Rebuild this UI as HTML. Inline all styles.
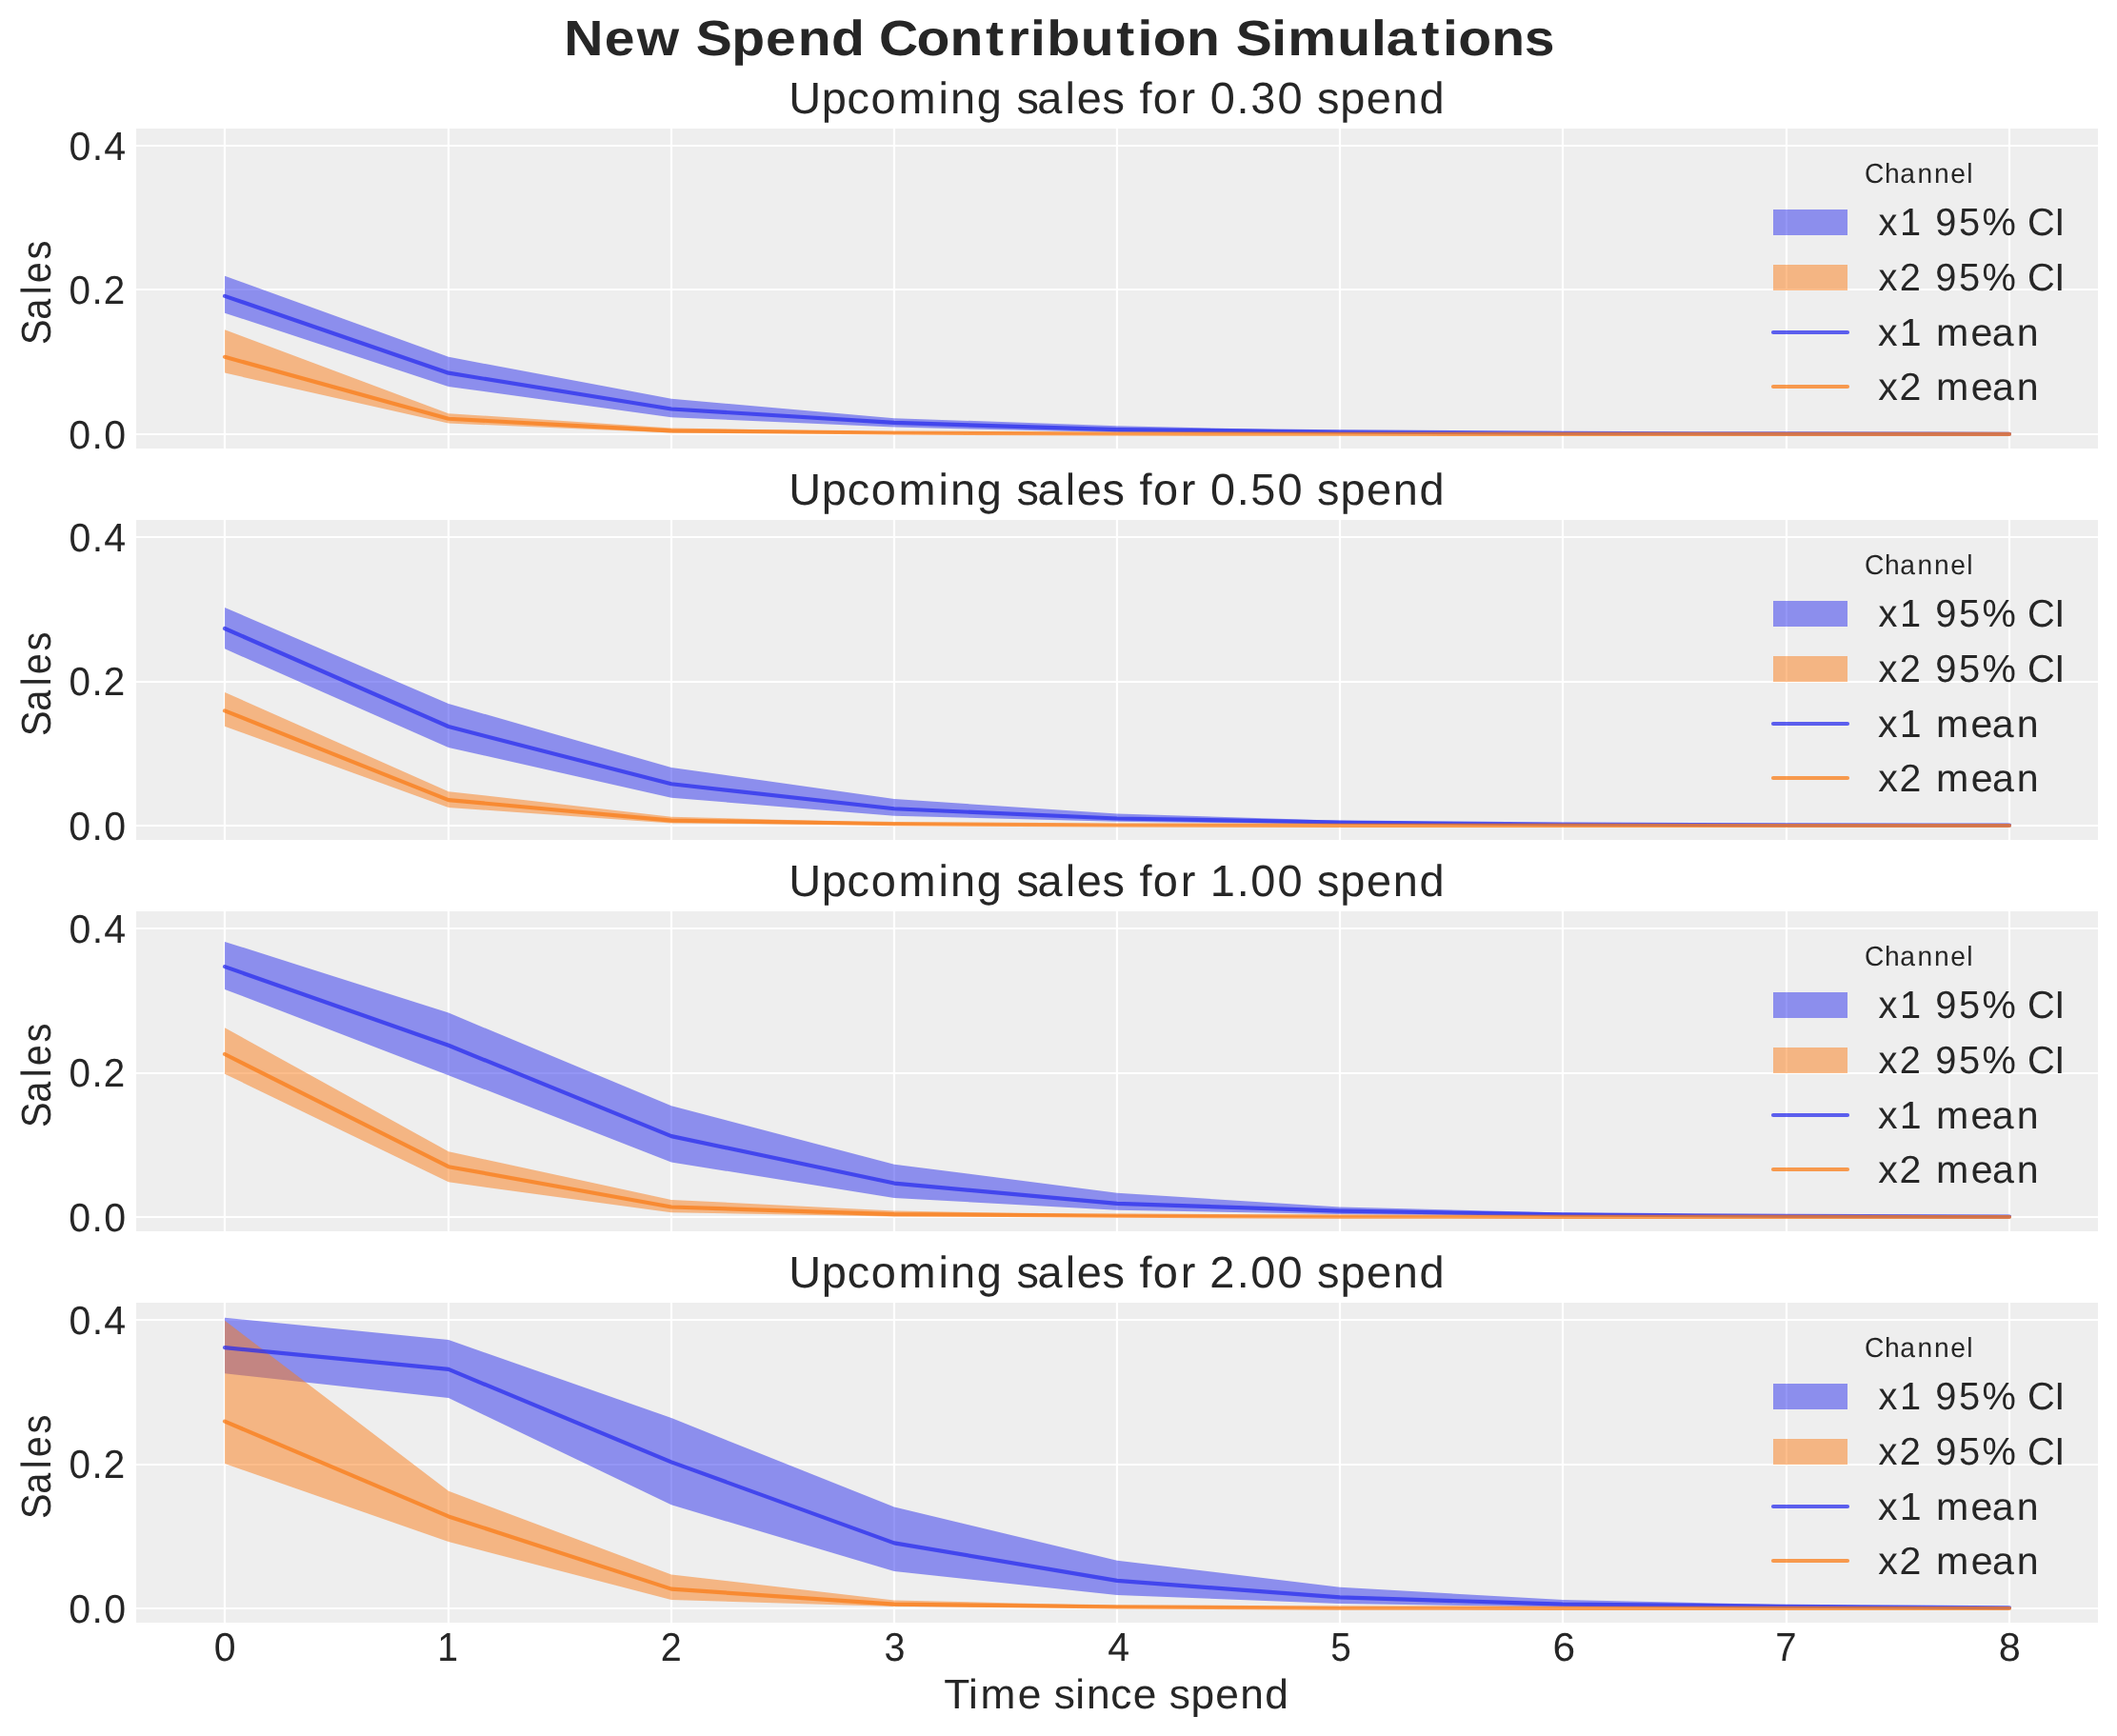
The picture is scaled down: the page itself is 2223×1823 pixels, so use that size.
<!DOCTYPE html>
<html><head><meta charset="utf-8"><title>New Spend Contribution Simulations</title><style>html,body{margin:0;padding:0;background:#fff;overflow:hidden}</style></head><body>
<svg width="2223" height="1823" viewBox="0 0 2223 1823" style="display:block;font-family:'Liberation Sans',sans-serif;text-rendering:geometricPrecision;will-change:transform">
<rect x="0" y="0" width="2223" height="1823" fill="#ffffff"/>
<text text-rendering="geometricPrecision" transform="translate(0,57.75) scale(1.0919,1)" x="542.49 581.28 612.48 653.93 669.2 703.58 736.45 767.16 799.6 832.2 845.42 881.57 913.66 947.92 969.47 991.02 1006.8 1039.23 1073.57 1094.06 1108.93 1141.02 1173.26 1188.52 1222.84 1238.56 1286 1318.92 1333.19 1366.96 1387.46 1402.33 1434.41 1466.02" y="0" font-size="52.25" font-weight="bold" fill="#262626">New Spend Contribution Simulations</text>
<rect x="143" y="135" width="2060" height="336" fill="#eeeeee"/>
<path d="M236 135V471M471 135V471M705 135V471M939 135V471M1173 135V471M1407 135V471M1641 135V471M1876 135V471M2110 135V471M143 456H2203M143 304H2203M143 153H2203" stroke="#ffffff" stroke-width="2.22" fill="none"/>
<polygon points="236,289.69 471,374.81 705,418.81 939,439.18 1173,447.24 1407,452.48 1641,454.53 1876,455.29 2110,455.67 2110,455.82 1876,455.67 1641,455.44 1407,454.76 1173,454 939,448.6 705,438.19 471,405.89 236,328.68" fill="#2a2eec" fill-opacity="0.5"/>
<polygon points="236,346.23 471,434.16 705,449.52 939,453.62 1173,455.14 1407,455.67 1641,455.82 1876,455.9 2110,455.9 2110,455.9 1876,455.9 1641,455.9 1407,455.9 1173,455.82 939,455.44 705,454.53 471,444.5 236,391.6" fill="#fa7c17" fill-opacity="0.5"/>
<polyline points="236,310.89 471,391.68 705,429.53 939,443.89 1173,451.19 1407,453.39 1641,454.91 1876,455.44 2110,455.75" fill="none" stroke="#2a2eec" stroke-opacity="0.75" stroke-width="4.17" stroke-linecap="round" stroke-linejoin="round"/>
<polyline points="236,374.81 471,439.71 705,452.4 939,454.53 1173,455.52 1407,455.75 1641,455.9 1876,455.9 2110,455.9" fill="none" stroke="#fa7c17" stroke-opacity="0.75" stroke-width="4.17" stroke-linecap="round" stroke-linejoin="round"/>
<text text-rendering="geometricPrecision" transform="translate(0,191.8) scale(0.9714,1)" x="2015.64 2037.21 2053.9 2072.78 2090.84 2108.64 2126.16" y="0" font-size="29.03" fill="#262626">Channel</text>
<rect x="1862" y="220" width="78" height="27" fill="#2a2eec" fill-opacity="0.5"/>
<rect x="1862" y="278" width="78" height="27" fill="#fa7c17" fill-opacity="0.5"/>
<path d="M1862 349H1940" stroke="#2a2eec" stroke-opacity="0.75" stroke-width="4.17" stroke-linecap="round"/>
<path d="M1862 406H1940" stroke="#fa7c17" stroke-opacity="0.75" stroke-width="4.17" stroke-linecap="round"/>
<text text-rendering="geometricPrecision" transform="translate(0,246.8) scale(0.9783,1)" x="2016.25 2039.39 2063.55 2077.39 2102.65 2127.58 2164.54 2176.16 2205.14" y="0" font-size="40.64" fill="#262626">x1 95% CI</text>
<text text-rendering="geometricPrecision" transform="translate(0,304.8) scale(0.9794,1)" x="2014.01 2036.81 2061.27 2075.09 2100.33 2125.22 2162.15 2173.74 2202.71" y="0" font-size="40.64" fill="#262626">x2 95% CI</text>
<text text-rendering="geometricPrecision" transform="translate(0,362.7) scale(1.0114,1)" x="1949.85 1972.19 1995.94 2010.06 2046.22 2068.29 2093.8" y="0" font-size="40.64" fill="#262626">x1 mean</text>
<text text-rendering="geometricPrecision" transform="translate(0,419.7) scale(1.0124,1)" x="1948.02 1970.04 1994.07 2008.17 2044.3 2066.35 2091.83" y="0" font-size="40.64" fill="#262626">x2 mean</text>
<text text-rendering="geometricPrecision" transform="translate(0,118.75) scale(1.0095,1)" x="820.44 854.64 881.2 905.99 934.56 976.19 988.57 1016.12 1043.26 1057.41 1079.08 1108.09 1120.07 1146.6 1169.36 1185.2 1199.39 1227.91 1243.85 1258.9 1286.35 1300.95 1328.88 1355.8 1369.95 1394.04 1421.35 1448.84 1476.39" y="0" font-size="46.44" fill="#262626">Upcoming sales for 0.30 spend</text>
<text text-rendering="geometricPrecision" transform="translate(0,470.6) scale(0.9784,1)" x="73.91 98.6 111.62" y="0" font-size="42" fill="#262626">0.0</text>
<text text-rendering="geometricPrecision" transform="translate(0,318.6) scale(0.9628,1)" x="75.21 100.23 113.05" y="0" font-size="42" fill="#262626">0.2</text>
<text text-rendering="geometricPrecision" transform="translate(0,167.6) scale(0.9784,1)" x="74.23 98.83 111.76" y="0" font-size="42" fill="#262626">0.4</text>
<text text-rendering="geometricPrecision" transform="translate(53.35,0) rotate(-90) scale(0.9143,1)" x="-395.89 -367.16 -338.15 -325.16 -298.06" y="0" font-size="43.54" fill="#262626">Sales</text>
<rect x="143" y="546" width="2060" height="336" fill="#eeeeee"/>
<path d="M236 546V882M471 546V882M705 546V882M939 546V882M1173 546V882M1407 546V882M1641 546V882M1876 546V882M2110 546V882M143 867H2203M143 716H2203M143 564H2203" stroke="#ffffff" stroke-width="2.22" fill="none"/>
<polygon points="236,638.01 471,739.02 705,805.97 939,839.11 1173,854.61 1407,861.68 1641,864.72 1876,866.01 2110,866.62 2110,866.92 1876,866.77 1641,866.39 1407,865.48 1173,862.82 939,856.82 705,837.82 471,785 236,681.33" fill="#2a2eec" fill-opacity="0.5"/>
<polygon points="236,727.01 471,831.13 705,857.73 939,863.96 1173,866.09 1407,866.7 1641,866.92 1876,867 2110,867 2110,867 1876,867 1641,867 1407,867 1173,866.85 939,866.24 705,864.57 471,848 236,762.73" fill="#fa7c17" fill-opacity="0.5"/>
<polyline points="236,659.98 471,763.03 705,823.3 939,849.29 1173,859.48 1407,863.5 1641,865.48 1876,866.32 2110,866.7" fill="none" stroke="#2a2eec" stroke-opacity="0.75" stroke-width="4.17" stroke-linecap="round" stroke-linejoin="round"/>
<polyline points="236,746.39 471,840.1 705,861.6 939,865.1 1173,866.47 1407,866.85 1641,866.92 1876,867 2110,867" fill="none" stroke="#fa7c17" stroke-opacity="0.75" stroke-width="4.17" stroke-linecap="round" stroke-linejoin="round"/>
<text text-rendering="geometricPrecision" transform="translate(0,602.8) scale(0.9714,1)" x="2015.64 2037.21 2053.9 2072.78 2090.84 2108.64 2126.16" y="0" font-size="29.03" fill="#262626">Channel</text>
<rect x="1862" y="631" width="78" height="27" fill="#2a2eec" fill-opacity="0.5"/>
<rect x="1862" y="689" width="78" height="27" fill="#fa7c17" fill-opacity="0.5"/>
<path d="M1862 760H1940" stroke="#2a2eec" stroke-opacity="0.75" stroke-width="4.17" stroke-linecap="round"/>
<path d="M1862 817H1940" stroke="#fa7c17" stroke-opacity="0.75" stroke-width="4.17" stroke-linecap="round"/>
<text text-rendering="geometricPrecision" transform="translate(0,657.8) scale(0.9783,1)" x="2016.25 2039.39 2063.55 2077.39 2102.65 2127.58 2164.54 2176.16 2205.14" y="0" font-size="40.64" fill="#262626">x1 95% CI</text>
<text text-rendering="geometricPrecision" transform="translate(0,715.8) scale(0.9794,1)" x="2014.01 2036.81 2061.27 2075.09 2100.33 2125.22 2162.15 2173.74 2202.71" y="0" font-size="40.64" fill="#262626">x2 95% CI</text>
<text text-rendering="geometricPrecision" transform="translate(0,773.7) scale(1.0114,1)" x="1949.85 1972.19 1995.94 2010.06 2046.22 2068.29 2093.8" y="0" font-size="40.64" fill="#262626">x1 mean</text>
<text text-rendering="geometricPrecision" transform="translate(0,830.7) scale(1.0124,1)" x="1948.02 1970.04 1994.07 2008.17 2044.3 2066.35 2091.83" y="0" font-size="40.64" fill="#262626">x2 mean</text>
<text text-rendering="geometricPrecision" transform="translate(0,529.75) scale(1.0088,1)" x="821.08 855.3 881.89 906.7 935.29 976.95 989.34 1016.91 1044.06 1058.23 1079.92 1108.94 1120.94 1147.48 1170.25 1186.11 1200.32 1228.86 1244.8 1259.88 1287.34 1301.72 1329.91 1356.84 1371.01 1395.12 1422.45 1449.96 1477.53" y="0" font-size="46.44" fill="#262626">Upcoming sales for 0.50 spend</text>
<text text-rendering="geometricPrecision" transform="translate(0,881.6) scale(0.9784,1)" x="73.91 98.6 111.62" y="0" font-size="42" fill="#262626">0.0</text>
<text text-rendering="geometricPrecision" transform="translate(0,729.6) scale(0.9628,1)" x="75.21 100.23 113.05" y="0" font-size="42" fill="#262626">0.2</text>
<text text-rendering="geometricPrecision" transform="translate(0,578.6) scale(0.9784,1)" x="74.23 98.83 111.76" y="0" font-size="42" fill="#262626">0.4</text>
<text text-rendering="geometricPrecision" transform="translate(53.35,0) rotate(-90) scale(0.9143,1)" x="-845.41 -816.68 -787.67 -774.69 -747.58" y="0" font-size="43.54" fill="#262626">Sales</text>
<rect x="143" y="957" width="2060" height="336" fill="#eeeeee"/>
<path d="M236 957V1293M471 957V1293M705 957V1293M939 957V1293M1173 957V1293M1407 957V1293M1641 957V1293M1876 957V1293M2110 957V1293M143 1278H2203M143 1127H2203M143 975H2203" stroke="#ffffff" stroke-width="2.22" fill="none"/>
<polygon points="236,988.9 471,1063.6 705,1161.26 939,1222.67 1173,1252.77 1407,1267.59 1641,1273.44 1876,1276.1 2110,1277.24 2110,1277.85 1876,1277.54 1641,1276.86 1407,1274.96 1173,1270.78 939,1258.09 705,1220.39 471,1129.19 236,1038.9" fill="#2a2eec" fill-opacity="0.5"/>
<polygon points="236,1079.18 471,1209.37 705,1259.91 939,1271.62 1173,1275.72 1407,1277.24 1641,1277.77 1876,1277.92 2110,1278 2110,1278 1876,1278 1641,1278 1407,1278 1173,1277.85 939,1277.47 705,1273.29 471,1241.37 236,1127.67" fill="#fa7c17" fill-opacity="0.5"/>
<polyline points="236,1015.12 471,1097.8 705,1193.11 939,1242.58 1173,1263.94 1407,1271.62 1641,1275.34 1876,1276.86 2110,1277.54" fill="none" stroke="#2a2eec" stroke-opacity="0.75" stroke-width="4.17" stroke-linecap="round" stroke-linejoin="round"/>
<polyline points="236,1107 471,1225.18 705,1267.51 939,1275.19 1173,1276.63 1407,1277.62 1641,1277.85 1876,1277.92 2110,1278" fill="none" stroke="#fa7c17" stroke-opacity="0.75" stroke-width="4.17" stroke-linecap="round" stroke-linejoin="round"/>
<text text-rendering="geometricPrecision" transform="translate(0,1013.8) scale(0.9714,1)" x="2015.64 2037.21 2053.9 2072.78 2090.84 2108.64 2126.16" y="0" font-size="29.03" fill="#262626">Channel</text>
<rect x="1862" y="1042" width="78" height="27" fill="#2a2eec" fill-opacity="0.5"/>
<rect x="1862" y="1100" width="78" height="27" fill="#fa7c17" fill-opacity="0.5"/>
<path d="M1862 1171H1940" stroke="#2a2eec" stroke-opacity="0.75" stroke-width="4.17" stroke-linecap="round"/>
<path d="M1862 1228H1940" stroke="#fa7c17" stroke-opacity="0.75" stroke-width="4.17" stroke-linecap="round"/>
<text text-rendering="geometricPrecision" transform="translate(0,1068.8) scale(0.9783,1)" x="2016.25 2039.39 2063.55 2077.39 2102.65 2127.58 2164.54 2176.16 2205.14" y="0" font-size="40.64" fill="#262626">x1 95% CI</text>
<text text-rendering="geometricPrecision" transform="translate(0,1126.8) scale(0.9794,1)" x="2014.01 2036.81 2061.27 2075.09 2100.33 2125.22 2162.15 2173.74 2202.71" y="0" font-size="40.64" fill="#262626">x2 95% CI</text>
<text text-rendering="geometricPrecision" transform="translate(0,1184.7) scale(1.0114,1)" x="1949.85 1972.19 1995.94 2010.06 2046.22 2068.29 2093.8" y="0" font-size="40.64" fill="#262626">x1 mean</text>
<text text-rendering="geometricPrecision" transform="translate(0,1241.7) scale(1.0124,1)" x="1948.02 1970.04 1994.07 2008.17 2044.3 2066.35 2091.83" y="0" font-size="40.64" fill="#262626">x2 mean</text>
<text text-rendering="geometricPrecision" transform="translate(0,940.75) scale(1.0095,1)" x="820.48 854.68 881.25 906.04 934.61 976.25 988.62 1016.17 1043.32 1057.47 1079.13 1108.15 1120.13 1146.66 1169.42 1185.26 1199.45 1227.97 1243.91 1258.73 1286.42 1300.96 1328.95 1355.88 1370.03 1394.11 1421.43 1448.92 1476.47" y="0" font-size="46.44" fill="#262626">Upcoming sales for 1.00 spend</text>
<text text-rendering="geometricPrecision" transform="translate(0,1292.6) scale(0.9784,1)" x="73.91 98.6 111.62" y="0" font-size="42" fill="#262626">0.0</text>
<text text-rendering="geometricPrecision" transform="translate(0,1140.6) scale(0.9628,1)" x="75.21 100.23 113.05" y="0" font-size="42" fill="#262626">0.2</text>
<text text-rendering="geometricPrecision" transform="translate(0,989.6) scale(0.9784,1)" x="74.23 98.83 111.76" y="0" font-size="42" fill="#262626">0.4</text>
<text text-rendering="geometricPrecision" transform="translate(53.35,0) rotate(-90) scale(0.9143,1)" x="-1294.93 -1266.2 -1237.19 -1224.21 -1197.1" y="0" font-size="43.54" fill="#262626">Sales</text>
<rect x="143" y="1368" width="2060" height="336" fill="#eeeeee"/>
<path d="M236 1368V1704M471 1368V1704M705 1368V1704M939 1368V1704M1173 1368V1704M1407 1368V1704M1641 1368V1704M1876 1368V1704M2110 1368V1704M143 1689H2203M143 1538H2203M143 1386H2203" stroke="#ffffff" stroke-width="2.22" fill="none"/>
<polygon points="236,1383.71 471,1407.12 705,1489.12 939,1582.6 1173,1638.69 1407,1666.81 1641,1680.03 1876,1685.2 2110,1687.48 2110,1688.77 1876,1688.39 1641,1687.48 1407,1683.98 1173,1675.09 939,1650.01 705,1580.32 471,1467.92 236,1442.23" fill="#2a2eec" fill-opacity="0.5"/>
<polygon points="236,1386.67 471,1565.8 705,1653.51 939,1680.41 1173,1685.96 1407,1688.09 1641,1688.7 1876,1688.92 2110,1689 2110,1689 1876,1689 1641,1689 1407,1688.92 1173,1688.54 939,1687.02 705,1680.03 471,1619 236,1536.92" fill="#fa7c17" fill-opacity="0.5"/>
<polyline points="236,1415.17 471,1437.9 705,1535.4 939,1620.37 1173,1659.89 1407,1677.37 1641,1684.67 1876,1686.72 2110,1688.24" fill="none" stroke="#2a2eec" stroke-opacity="0.75" stroke-width="4.17" stroke-linecap="round" stroke-linejoin="round"/>
<polyline points="236,1492.62 471,1592.4 705,1668.63 939,1684.67 1173,1687.33 1407,1688.54 1641,1688.85 1876,1688.92 2110,1689" fill="none" stroke="#fa7c17" stroke-opacity="0.75" stroke-width="4.17" stroke-linecap="round" stroke-linejoin="round"/>
<text text-rendering="geometricPrecision" transform="translate(0,1424.8) scale(0.9714,1)" x="2015.64 2037.21 2053.9 2072.78 2090.84 2108.64 2126.16" y="0" font-size="29.03" fill="#262626">Channel</text>
<rect x="1862" y="1453" width="78" height="27" fill="#2a2eec" fill-opacity="0.5"/>
<rect x="1862" y="1511" width="78" height="27" fill="#fa7c17" fill-opacity="0.5"/>
<path d="M1862 1582H1940" stroke="#2a2eec" stroke-opacity="0.75" stroke-width="4.17" stroke-linecap="round"/>
<path d="M1862 1639H1940" stroke="#fa7c17" stroke-opacity="0.75" stroke-width="4.17" stroke-linecap="round"/>
<text text-rendering="geometricPrecision" transform="translate(0,1479.8) scale(0.9783,1)" x="2016.25 2039.39 2063.55 2077.39 2102.65 2127.58 2164.54 2176.16 2205.14" y="0" font-size="40.64" fill="#262626">x1 95% CI</text>
<text text-rendering="geometricPrecision" transform="translate(0,1537.8) scale(0.9794,1)" x="2014.01 2036.81 2061.27 2075.09 2100.33 2125.22 2162.15 2173.74 2202.71" y="0" font-size="40.64" fill="#262626">x2 95% CI</text>
<text text-rendering="geometricPrecision" transform="translate(0,1595.7) scale(1.0114,1)" x="1949.85 1972.19 1995.94 2010.06 2046.22 2068.29 2093.8" y="0" font-size="40.64" fill="#262626">x1 mean</text>
<text text-rendering="geometricPrecision" transform="translate(0,1652.7) scale(1.0124,1)" x="1948.02 1970.04 1994.07 2008.17 2044.3 2066.35 2091.83" y="0" font-size="40.64" fill="#262626">x2 mean</text>
<text text-rendering="geometricPrecision" transform="translate(0,1351.75) scale(1.0098,1)" x="820.25 854.44 881 905.78 934.34 975.97 988.34 1015.88 1043.02 1057.17 1078.83 1107.83 1119.81 1146.33 1169.09 1184.93 1199.11 1227.63 1243.56 1258.03 1286.05 1300.58 1328.57 1355.49 1369.64 1393.72 1421.02 1448.5 1476.05" y="0" font-size="46.44" fill="#262626">Upcoming sales for 2.00 spend</text>
<text text-rendering="geometricPrecision" transform="translate(0,1703.6) scale(0.9784,1)" x="73.91 98.6 111.62" y="0" font-size="42" fill="#262626">0.0</text>
<text text-rendering="geometricPrecision" transform="translate(0,1551.6) scale(0.9628,1)" x="75.21 100.23 113.05" y="0" font-size="42" fill="#262626">0.2</text>
<text text-rendering="geometricPrecision" transform="translate(0,1400.6) scale(0.9784,1)" x="74.23 98.83 111.76" y="0" font-size="42" fill="#262626">0.4</text>
<text text-rendering="geometricPrecision" transform="translate(53.35,0) rotate(-90) scale(0.9143,1)" x="-1744.45 -1715.72 -1686.71 -1673.73 -1646.62" y="0" font-size="43.54" fill="#262626">Sales</text>
<text text-rendering="geometricPrecision" transform="translate(0,1743.5) scale(0.9761,1)" x="230.35" y="0" font-size="42" fill="#262626">0</text>
<text text-rendering="geometricPrecision" transform="translate(0,1743.5) scale(0.9322,1)" x="492.55" y="0" font-size="42" fill="#262626">1</text>
<text text-rendering="geometricPrecision" transform="translate(0,1743.5) scale(0.9408,1)" x="737.46" y="0" font-size="42" fill="#262626">2</text>
<text text-rendering="geometricPrecision" transform="translate(0,1743.5) scale(0.9374,1)" x="990.58" y="0" font-size="42" fill="#262626">3</text>
<text text-rendering="geometricPrecision" transform="translate(0,1743.5) scale(0.9762,1)" x="1191.57" y="0" font-size="42" fill="#262626">4</text>
<text text-rendering="geometricPrecision" transform="translate(0,1743.5) scale(0.9212,1)" x="1516.9" y="0" font-size="42" fill="#262626">5</text>
<text text-rendering="geometricPrecision" transform="translate(0,1743.5) scale(1.0102,1)" x="1614.06" y="0" font-size="42" fill="#262626">6</text>
<text text-rendering="geometricPrecision" transform="translate(0,1743.5) scale(0.9548,1)" x="1952.52" y="0" font-size="42" fill="#262626">7</text>
<text text-rendering="geometricPrecision" transform="translate(0,1743.5) scale(0.9866,1)" x="2127.23" y="0" font-size="42" fill="#262626">8</text>
<text text-rendering="geometricPrecision" transform="translate(0,1793.7) scale(1.0179,1)" x="973.79 999.13 1011.44 1049.85 1074.42 1087.4 1109.47 1120.85 1145.63 1168.73 1193.3 1206.29 1228.59 1253.9 1279.37 1304.91" y="0" font-size="43.54" fill="#262626">Time since spend</text>
</svg>
</body></html>
